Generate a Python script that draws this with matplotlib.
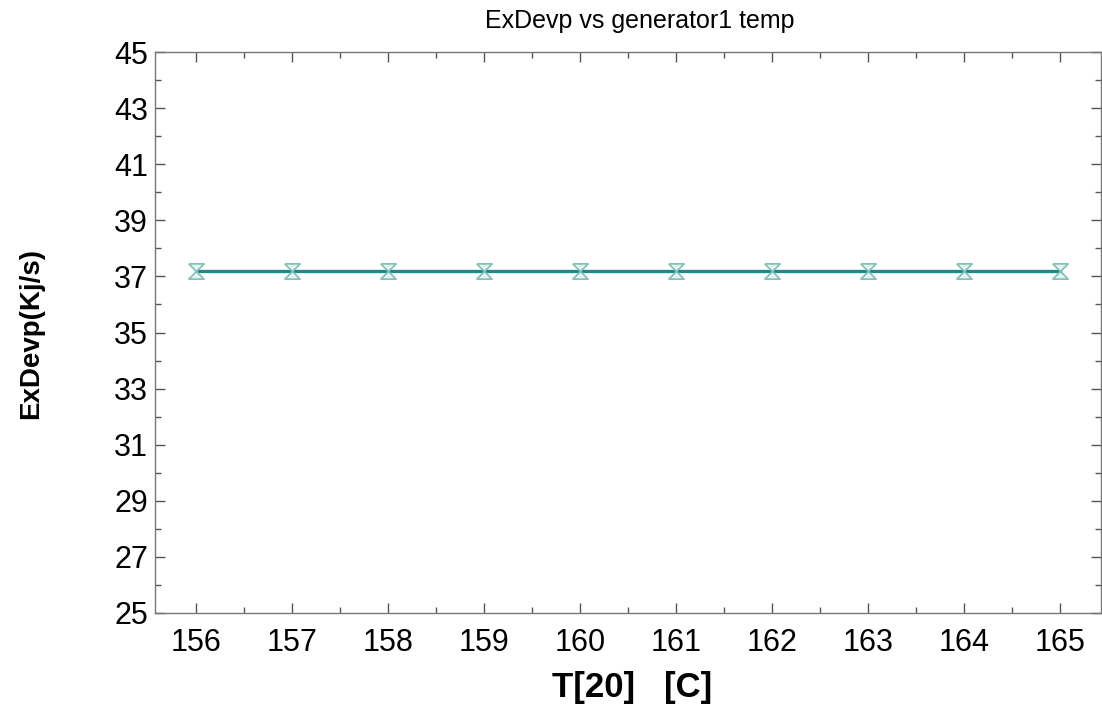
import numpy as np
import matplotlib
matplotlib.use("Agg")
import matplotlib.pyplot as plt
from matplotlib.ticker import MultipleLocator

plt.rcParams['font.family'] = ['Liberation Sans', 'DejaVu Sans']

# ======= DATA ===========
gen_temp = [156, 157, 158, 159, 160, 161, 162, 163, 164, 165]
ex_devp = [37.18, 37.18, 37.18, 37.18, 37.18, 37.18, 37.18, 37.18, 37.18, 37.18]

# hourglass marker
hourglass = [(-1, 1), (1, 1), (-1, -1), (1, -1), (-1, 1)]

fig = plt.figure(figsize=(11.02, 7.13), dpi=100)
ax = fig.add_axes([155 / 1102, 100 / 713, 946 / 1102, 561 / 713])

ax.plot(gen_temp, ex_devp, color='#248686', linewidth=2.4, zorder=2)
ax.plot(gen_temp, ex_devp, linestyle='none', marker=hourglass, markersize=11,
        markerfacecolor='#e6f4f2', markeredgecolor='#7fbfb8', markeredgewidth=1.2, zorder=3)

ax.set_xlim(156 - 41 / 96, 165 + 41 / 96)
ax.set_ylim(25, 45)
ax.xaxis.set_major_locator(MultipleLocator(1))
ax.xaxis.set_minor_locator(MultipleLocator(0.5))
ax.yaxis.set_minor_locator(MultipleLocator(1))
ax.set_yticks(np.arange(25, 46, 2))

ax.tick_params(which='both', direction='in', top=True, right=True, color='#555555')
ax.tick_params(which='major', length=7, width=1, labelsize=22)
ax.tick_params(axis='x', which='major', pad=11)
ax.tick_params(axis='y', which='major', pad=5)
ax.tick_params(which='minor', length=4, width=1)
for s in ax.spines.values():
    s.set_color('#777777')
    s.set_linewidth(1)

fig.text(640 / 1102, 1 - 21 / 713, 'ExDevp vs generator1 temp', ha='center', va='center', fontsize=18)
fig.text(31 / 1102, 1 - 334 / 713, 'ExDevp(Kj/s)', rotation=90, ha='center', va='center',
         fontsize=20, fontweight='bold')
fig.text(632 / 1102, 1 - 688 / 713, 'T[20]   [C]', ha='center', va='center',
         fontsize=25, fontweight='bold')

fig.savefig('out.png', dpi=100)
